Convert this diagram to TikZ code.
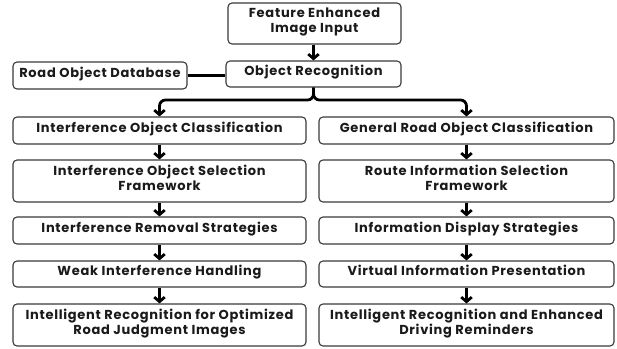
\documentclass[tikz,border=0pt]{standalone}
\usepackage{fontspec}
\setmainfont{Poppins}[LetterSpace=5.5]
\usetikzlibrary{arrows.meta}
\definecolor{ink}{HTML}{1A1A1A}
\definecolor{edge}{HTML}{3A3A3A}
\tikzset{
  box/.style={draw=edge, line width=1.1pt, rounded corners=4pt, fill=white,
    align=center, inner sep=0pt, text=ink, text depth=7pt,
    font=\fontsize{13}{15}\selectfont\bfseries},
  conn/.style={draw=black, line width=2.8pt},
  flow/.style={conn, -{Straight Barb[length=4.5pt,width=10.5pt,line width=2.8pt]}},
}
\begin{document}
\begin{tikzpicture}[x=1pt,y=-1pt]
\useasboundingbox (0,0) rectangle (617,348);
% top of the pipeline
\node[box, minimum width=173pt, minimum height=41pt] (input) at (314.5,23.5) {Feature Enhanced\\Image Input};
\node[box, minimum width=175pt, minimum height=26pt] (recog) at (313.5,74) {Object Recognition};
\node[box, minimum width=174pt, minimum height=27pt] (db) at (100,75.5) {Road Object Database};
% left branch
\node[box, minimum width=293pt, minimum height=27pt] (l1) at (159.5,130.5) {Interference Object Classification};
\node[box, minimum width=293pt, minimum height=42pt] (l2) at (159.5,181) {Interference Object Selection\\Framework};
\node[box, minimum width=293pt, minimum height=27pt] (l3) at (159.5,230.5) {Interference Removal Strategies};
\node[box, minimum width=293pt, minimum height=26pt] (l4) at (159.5,274) {Weak Interference Handling};
\node[box, minimum width=293pt, minimum height=42pt] (l5) at (159.5,325) {Intelligent Recognition for Optimized\\Road Judgment Images};
% right branch
\node[box, minimum width=295pt, minimum height=27pt] (r1) at (466.5,130.5) {General Road Object Classification};
\node[box, minimum width=295pt, minimum height=42pt] (r2) at (466.5,181) {Route Information Selection\\Framework};
\node[box, minimum width=295pt, minimum height=27pt] (r3) at (466.5,230.5) {Information Display Strategies};
\node[box, minimum width=295pt, minimum height=26pt] (r4) at (466.5,274) {Virtual Information Presentation};
\node[box, minimum width=295pt, minimum height=42pt] (r5) at (466.5,325) {Intelligent Recognition and Enhanced\\Driving Reminders};
\coordinate (split) at (313.5,100);
% connectors
\draw[flow] (input.south -| recog.north) -- (recog.north);
\draw[conn] (db.east) -- (recog.west |- db.east);
\draw[flow, rounded corners=6pt] (recog.south) |- (split) -| (l1.north);
\draw[flow, rounded corners=6pt] (recog.south) |- (split) -| (r1.north);
\foreach \a/\b in {l1/l2,l2/l3,l3/l4,l4/l5,r1/r2,r2/r3,r3/r4,r4/r5}
  \draw[flow] (\a.south) -- (\b.north);
\end{tikzpicture}
\end{document}
